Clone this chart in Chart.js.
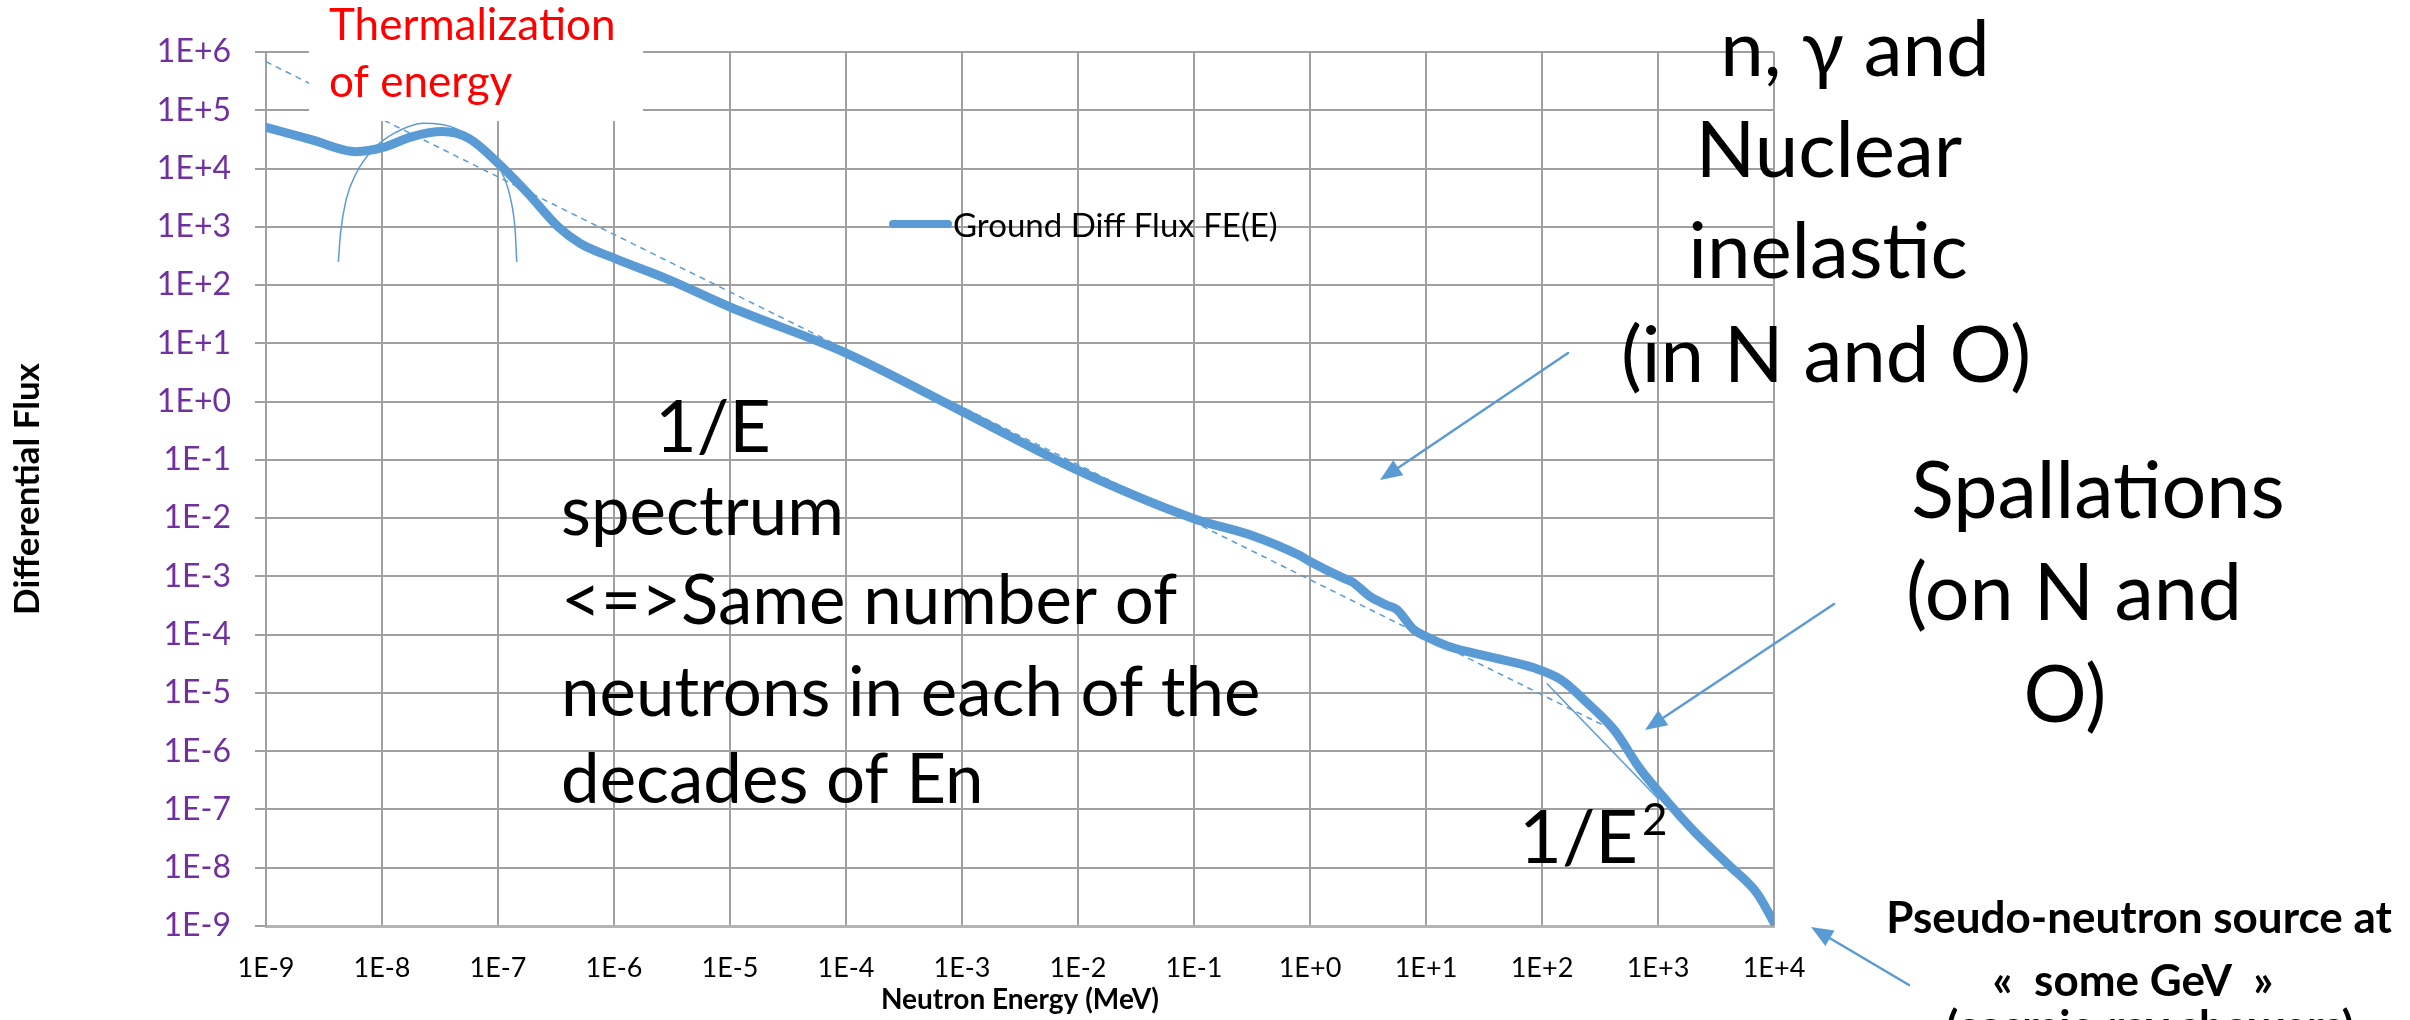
<!DOCTYPE html>
<html>
<head>
<meta charset="utf-8">
<script src="https://cdn.jsdelivr.net/npm/chart.js@4.4.0/dist/chart.umd.min.js"></script>
<style>
  html, body { margin: 0; padding: 0; background: #fff; }
  canvas { display: block; }
</style>
</head>
<body>
<canvas id="fluxChart" width="2410" height="1020"></canvas>
<script>
// ground neutron spectrum (E in MeV)
const energyMeV = [1e-9, 2.5e-9, 6.0e-9, 1.02e-8, 1.8e-8, 3.3e-8, 5.6e-8, 1.02e-7, 1.8e-7, 3.3e-7,
    5.1e-7, 1.0e-6, 3.0e-6, 1e-5, 1e-4, 1e-3, 1e-2, 1e-1, 0.32, 0.81,
    1.0, 1.9, 2.3, 3.3, 4.6, 5.6, 7.8, 10, 16, 35,
    85, 145, 245, 420, 710, 1230, 2100, 4200, 7100, 1e4];
const groundFlux = [5.1e4, 3.1e4, 1.95e4, 2.3e4, 3.5e4, 4.3e4, 3.3e4, 1.2e4, 3.8e3, 1.0e3,
    520, 290, 123, 42, 6.8, 0.68, 6.6e-2, 9.8e-3, 5.0e-3, 2.3e-3,
    1.8e-3, 9.5e-4, 8.1e-4, 4.5e-4, 3.2e-4, 2.7e-4, 1.23e-4, 9.3e-5, 6.2e-5, 4.2e-5,
    2.7e-5, 1.7e-5, 6.8e-6, 2.3e-6, 4.8e-7, 1.3e-7, 4.0e-8, 1.05e-8, 3.7e-9, 1.15e-9];

// hand drawn guide lines
const invE_E = [1e-9, 363];
const invE_F = [6.8e5, 2.6e-6];
const invE2_E = [110, 1020];
const invE2_F = [1.45e-5, 1.48e-7];
const thermalE = [4.2e-9, 4.4e-9, 4.9e-9, 6.0e-9, 8.3e-9, 1.29e-8, 2.3e-8, 4.3e-8, 7.2e-8, 1.05e-7, 1.29e-7, 1.41e-7, 1.45e-7];
const thermalF = [250, 800, 2900, 8300, 2.1e4, 4.1e4, 6.0e4, 4.9e4, 2.3e4, 9.5e3, 2.9e3, 800, 250];

const xTickValues = [1e-9, 1e-8, 1e-7, 1e-6, 1e-5, 1e-4, 1e-3, 1e-2, 1e-1, 1e0, 1e1, 1e2, 1e3, 1e4];
const xTickLabels = ['1E-9', '1E-8', '1E-7', '1E-6', '1E-5', '1E-4', '1E-3', '1E-2', '1E-1', '1E+0', '1E+1', '1E+2', '1E+3', '1E+4'];
const yTickValues = [1e-9, 1e-8, 1e-7, 1e-6, 1e-5, 1e-4, 1e-3, 1e-2, 1e-1, 1e0, 1e1, 1e2, 1e3, 1e4, 1e5, 1e6];
const yTickLabels = ['1E-9', '1E-8', '1E-7', '1E-6', '1E-5', '1E-4', '1E-3', '1E-2', '1E-1', '1E+0', '1E+1', '1E+2', '1E+3', '1E+4', '1E+5', '1E+6'];

const BLUE = '#5B9BD5';
const GRID = '#a0a0a0';
const PURPLE = '#7030A0';
const FONT = 'Lato, "Liberation Sans", sans-serif';

const toPts = (xs, ys) => xs.map((x, i) => ({ x: x, y: ys[i] }));

function text(c, s, x, y, size, opts) {
    opts = opts || {};
    c.font = (opts.bold ? 'bold ' : '') + size + 'px ' + FONT;
    c.fillStyle = opts.color || '#000';
    c.textAlign = opts.align || 'left';
    c.textBaseline = 'alphabetic';
    c.fillText(s, x, y);
}

function arrow(c, x1, y1, x2, y2) {
    const a = Math.atan2(y2 - y1, x2 - x1);
    const len = 22, half = 9;
    const bx = x2 - len * Math.cos(a), by = y2 - len * Math.sin(a);
    c.strokeStyle = BLUE;
    c.fillStyle = BLUE;
    c.lineWidth = 2.5;
    c.beginPath();
    c.moveTo(x1, y1);
    c.lineTo(bx, by);
    c.stroke();
    c.beginPath();
    c.moveTo(x2, y2);
    c.lineTo(bx + half * Math.sin(a), by - half * Math.cos(a));
    c.lineTo(bx - half * Math.sin(a), by + half * Math.cos(a));
    c.closePath();
    c.fill();
}

const annotations = {
    id: 'annotations',
    afterDatasetsDraw(chart) {
        const c = chart.ctx;
        c.save();

        // legend, sitting inside the plot
        c.strokeStyle = BLUE;
        c.lineWidth = 8;
        c.lineCap = 'round';
        c.beginPath();
        c.moveTo(893, 224);
        c.lineTo(948, 224);
        c.stroke();
        c.font = '33px ' + FONT;
        c.fillStyle = '#000';
        c.textBaseline = 'middle';
        c.textAlign = 'left';
        c.fillText('Ground Diff Flux FE(E)', 953, 226);

        // thermal peak note on a white patch
        c.fillStyle = '#fff';
        c.fillRect(309, 0, 334, 121);
        text(c, 'Thermalization', 329, 40, 44, { color: '#ff0000' });
        text(c, 'of energy', 329, 97, 44, { color: '#ff0000' });

        text(c, 'n, \u03b3 and', 1855, 76, 78, { align: 'center' });
        text(c, 'Nuclear', 1829, 177, 78, { align: 'center' });
        text(c, 'inelastic', 1828, 278, 78, { align: 'center' });
        text(c, '(in N and O)', 1826, 382, 78, { align: 'center' });

        text(c, 'Spallations', 2098, 518, 79, { align: 'center' });
        text(c, '(on N and', 2074, 620, 79, { align: 'center' });
        text(c, 'O)', 2065, 722, 79, { align: 'center' });

        text(c, '1/E', 713, 452, 72, { align: 'center' });
        text(c, 'spectrum', 561, 535, 69);
        text(c, '<=>Same number of', 561, 624, 69);
        text(c, 'neutrons in each of the', 561, 716, 69);
        text(c, 'decades of En', 561, 803, 69);

        text(c, '1/E', 1519, 863, 74);
        text(c, '2', 1642, 835, 44);

        text(c, 'Pseudo-neutron source at', 2139, 933, 44, { bold: true, align: 'center' });
        text(c, '\u00ab  some GeV  \u00bb', 2133, 996, 44, { bold: true, align: 'center' });
        text(c, '(cosmic-ray showers)', 2150, 1042, 44, { bold: true, align: 'center' });

        arrow(c, 1568, 353, 1380, 480);
        arrow(c, 1834, 604, 1645, 730);
        arrow(c, 1909, 985, 1811, 927);

        c.restore();
    }
};

const ctx = document.getElementById('fluxChart').getContext('2d');

new Chart(ctx, {
    type: 'line',
    data: {
        datasets: [
            {
                label: 'Ground Diff Flux FE(E)',
                data: toPts(energyMeV, groundFlux),
                borderColor: BLUE,
                borderWidth: 9,
                pointRadius: 0,
                cubicInterpolationMode: 'monotone',
                borderCapStyle: 'round',
                borderJoinStyle: 'round',
                order: 2,
            },
            {
                label: '1/E',
                data: toPts(invE_E, invE_F),
                borderColor: BLUE,
                borderWidth: 1.5,
                borderDash: [6, 5],
                pointRadius: 0,
                order: 1,
            },
            {
                label: '1/E2',
                data: toPts(invE2_E, invE2_F),
                borderColor: BLUE,
                borderWidth: 1.5,
                pointRadius: 0,
                order: 1,
            },
            {
                label: 'thermal',
                data: toPts(thermalE, thermalF),
                borderColor: BLUE,
                borderWidth: 1.5,
                pointRadius: 0,
                cubicInterpolationMode: 'monotone',
                order: 1,
            },
        ],
    },
    options: {
        responsive: false,
        animation: false,
        layout: { padding: { top: 52, right: 636, bottom: 0, left: 0 } },
        plugins: {
            legend: { display: false },
            tooltip: { enabled: false },
        },
        scales: {
            x: {
                type: 'logarithmic',
                min: 1e-9,
                max: 1e4,
                afterBuildTicks: (s) => { s.ticks = xTickValues.map(v => ({ value: v })); },
                afterFit: (s) => { s.height = 94; },
                ticks: {
                    autoSkip: false,
                    maxRotation: 0,
                    padding: 26,
                    color: '#000',
                    font: { family: FONT, size: 27 },
                    callback: (v, i) => xTickLabels[i],
                },
                grid: { color: GRID, lineWidth: 2, drawTicks: false },
                border: { color: '#b4b4b4', width: 3 },
                title: {
                    display: true,
                    text: 'Neutron Energy (MeV)',
                    color: '#000',
                    font: { family: FONT, size: 28, weight: 'bold' },
                    padding: { top: 0, bottom: 3 },
                },
            },
            y: {
                type: 'logarithmic',
                min: 1e-9,
                max: 1e6,
                afterBuildTicks: (s) => { s.ticks = yTickValues.map(v => ({ value: v })); },
                afterFit: (s) => { s.width = 266; },
                ticks: {
                    autoSkip: false,
                    padding: 24,
                    color: PURPLE,
                    font: { family: FONT, size: 32 },
                    callback: (v, i) => yTickLabels[i],
                },
                grid: { color: GRID, lineWidth: 2, drawTicks: true, tickLength: 11, tickColor: GRID },
                border: { color: GRID, width: 2 },
                title: {
                    display: true,
                    text: 'Differential Flux',
                    color: '#000',
                    font: { family: FONT, size: 35, weight: 'bold' },
                    padding: { top: 7, bottom: 0 },
                },
            },
        },
    },
    plugins: [annotations],
});
</script>
</body>
</html>
